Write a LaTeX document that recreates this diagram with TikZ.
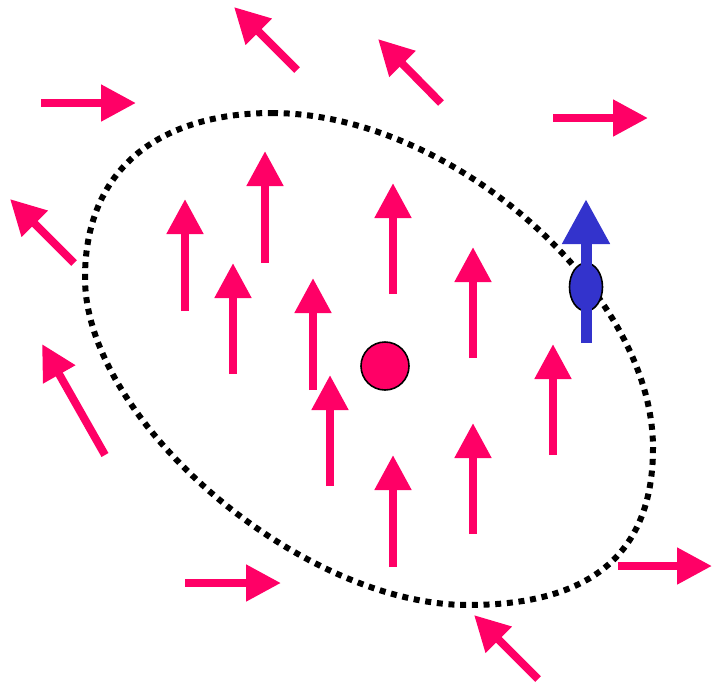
\documentclass[tikz,border=0pt]{standalone}
\usetikzlibrary{arrows.meta,shapes.geometric}
\definecolor{pinkc}{HTML}{FF0066}
\definecolor{bluec}{HTML}{3333CC}
\begin{document}
\begin{tikzpicture}[x=0.5pt,y=-0.5pt,
  parrow/.style={draw=pinkc, line width=4pt, -{Triangle[length=17.5pt,width=17.5pt]}},
  barrow/.style={draw=bluec, line width=5.5pt, -{Triangle[length=22.5pt,width=22.5pt]}},
  boundary/.style={draw=black, line width=3pt, dash pattern=on 3pt off 2.85pt}]
\useasboundingbox (0,0) rectangle (712,682);
% dotted boundary
\draw[boundary] (272,113) .. controls (450,113) and (653,290) .. (653,448)
  .. controls (653,570) and (570,605) .. (468,605)
  .. controls (300,605) and (85,420) .. (85,278)
  .. controls (85,160) and (170,113) .. cycle;
% inner vertical arrows
\draw[parrow] (185,311) -- (185,199);
\draw[parrow] (265,263) -- (265,151);
\draw[parrow] (233,374) -- (233,263);
\draw[parrow] (393,294) -- (393,183);
\draw[parrow] (313,390) -- (313,278);
\draw[parrow] (473,358) -- (473,247);
\draw[parrow] (330,486) -- (330,375);
\draw[parrow] (553,455) -- (553,344);
\draw[parrow] (473,534) -- (473,423);
\draw[parrow] (393,567) -- (393,455);
% outer horizontal arrows
\draw[parrow] (41,103) -- (136,103);
\draw[parrow] (553,118) -- (648,118);
\draw[parrow] (185,583) -- (281,583);
\draw[parrow] (618,566) -- (712,566);
% outer diagonal arrows
\draw[parrow] (297,70) -- (234,7);
\draw[parrow] (441,103) -- (378,39);
\draw[parrow] (74,263) -- (10,199);
\draw[parrow] (538,679) -- (474,615);
\draw[parrow] (105,455) -- (42,344);
% central circle
\node[circle, fill=pinkc, draw=black, line width=0.8pt, minimum size=24pt, inner sep=0pt] (core) at (385,366) {};
% blue particle
\node[ellipse, fill=bluec, draw=black, line width=0.8pt, minimum width=16.5pt, minimum height=24pt, inner sep=0pt] (spin) at (586,287) {};
\coordinate (btail) at (586,343);
\coordinate (btip) at (586,199);
\draw[barrow] (btail) -- (btip);
\end{tikzpicture}
\end{document}
